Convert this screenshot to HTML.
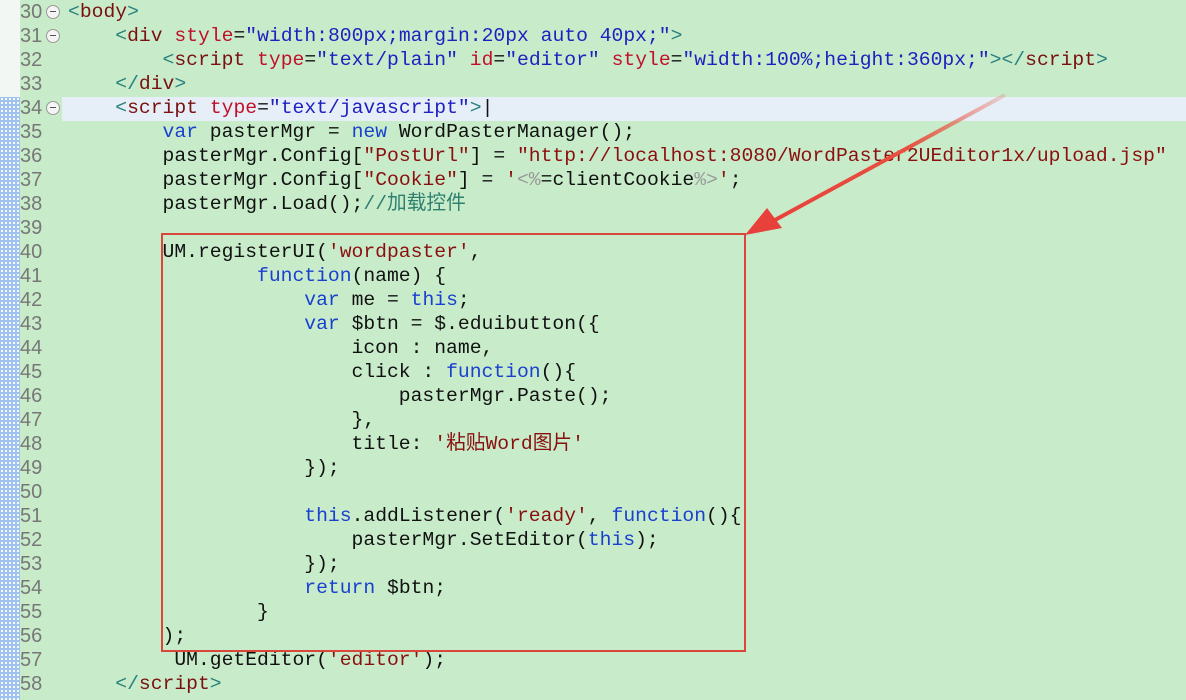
<!DOCTYPE html>
<html><head><meta charset="utf-8"><style>
body{margin:0;width:1186px;height:700px;overflow:hidden;background:#c8ecca;position:relative;font-family:"Liberation Mono","Noto Sans CJK SC",monospace;}
#hl{position:absolute;left:62px;top:97px;width:1124px;height:24px;background:#e6eff8;}
#band{position:absolute;left:0;top:97px;width:20px;height:603px;background:#9fc3ee;background-image:radial-gradient(#fff 1px,transparent 1.2px);background-size:4px 4px;}
#wb{position:absolute;left:0;top:0;width:20px;height:97px;background:#f3f7f3;}
.nums{position:absolute;left:20px;top:0;font-family:"Liberation Sans",sans-serif;font-size:20px;line-height:24px;color:#777;}
.fold{position:absolute;left:46px;width:12px;height:12px;border:1px solid #999;border-radius:50%;background:#f4f4f4;}
.fold:after{content:"";position:absolute;left:3px;top:5px;width:6px;height:1px;background:#555;}
pre{position:absolute;left:68px;top:0;margin:0;font-family:"Liberation Mono","Noto Sans CJK SC",monospace;font-size:19.7px;line-height:24px;color:#111;letter-spacing:0;}
.t{color:#2a8080}.n{color:#7a1010}.a{color:#c0102a}.s{color:#2020c0}.k{color:#1a40d0}.r{color:#8a1010}.c{color:#2f7f6f}
#box{position:absolute;left:161px;top:233px;width:581px;height:415px;border:2px solid #d9463c;}
</style></head><body>
<div id="wb"></div><div id="band"></div><div id="hl"></div>
<div class="nums">30<br>31<br>32<br>33<br>34<br>35<br>36<br>37<br>38<br>39<br>40<br>41<br>42<br>43<br>44<br>45<br>46<br>47<br>48<br>49<br>50<br>51<br>52<br>53<br>54<br>55<br>56<br>57<br>58</div>
<div class="fold" style="top:5px"></div><div class="fold" style="top:29px"></div><div class="fold" style="top:101px"></div>
<pre><span class="t">&lt;</span><span class="n">body</span><span class="t">&gt;</span>
    <span class="t">&lt;</span><span class="n">div</span> <span class="a">style</span>=<span class="s">"width:800px;margin:20px auto 40px;"</span><span class="t">&gt;</span>
        <span class="t">&lt;</span><span class="n">script</span> <span class="a">type</span>=<span class="s">"text/plain"</span> <span class="a">id</span>=<span class="s">"editor"</span> <span class="a">style</span>=<span class="s">"width:100%;height:360px;"</span><span class="t">&gt;&lt;/</span><span class="n">script</span><span class="t">&gt;</span>
    <span class="t">&lt;/</span><span class="n">div</span><span class="t">&gt;</span>
    <span class="t">&lt;</span><span class="n">script</span> <span class="a">type</span>=<span class="s">"text/javascript"</span><span class="t">&gt;</span>|
        <span class="k">var</span> pasterMgr = <span class="k">new</span> WordPasterManager();
        pasterMgr.Config[<span class="r">"PostUrl"</span>] = <span class="r">"http://localhost:8080/WordPaster2UEditor1x/upload.jsp"</span>
        pasterMgr.Config[<span class="r">"Cookie"</span>] = <span class="r">'</span><span style="color:#999">&lt;%</span>=clientCookie<span style="color:#999">%&gt;</span><span class="r">'</span>;
        pasterMgr.Load();<span class="c">//加载控件</span>

        UM.registerUI(<span class="r">'wordpaster'</span>,
                <span class="k">function</span>(name) {
                    <span class="k">var</span> me = <span class="k">this</span>;
                    <span class="k">var</span> $btn = $.eduibutton({
                        icon : name,
                        click : <span class="k">function</span>(){
                            pasterMgr.Paste();
                        },
                        title: <span class="r">'粘贴Word图片'</span>
                    });

                    <span class="k">this</span>.addListener(<span class="r">'ready'</span>, <span class="k">function</span>(){
                        pasterMgr.SetEditor(<span class="k">this</span>);
                    });
                    <span class="k">return</span> $btn;
                }
        );
         UM.getEditor(<span class="r">'editor'</span>);
    <span class="t">&lt;/</span><span class="n">script</span><span class="t">&gt;</span></pre>
<div id="box"></div>
<svg width="1186" height="700" style="position:absolute;left:0;top:0">
<defs><linearGradient id="g" x1="1005" y1="95" x2="760" y2="228" gradientUnits="userSpaceOnUse"><stop offset="0" stop-color="#e8503f" stop-opacity="0.2"/><stop offset="0.4" stop-color="#e8503f"/><stop offset="1" stop-color="#e8403a"/></linearGradient></defs>
<path d="M1005,95 L775,220" stroke="url(#g)" stroke-width="4" fill="none"/>
<polygon points="745,235 767,208 782,228" fill="#e8403a"/>
</svg>
</body></html>
